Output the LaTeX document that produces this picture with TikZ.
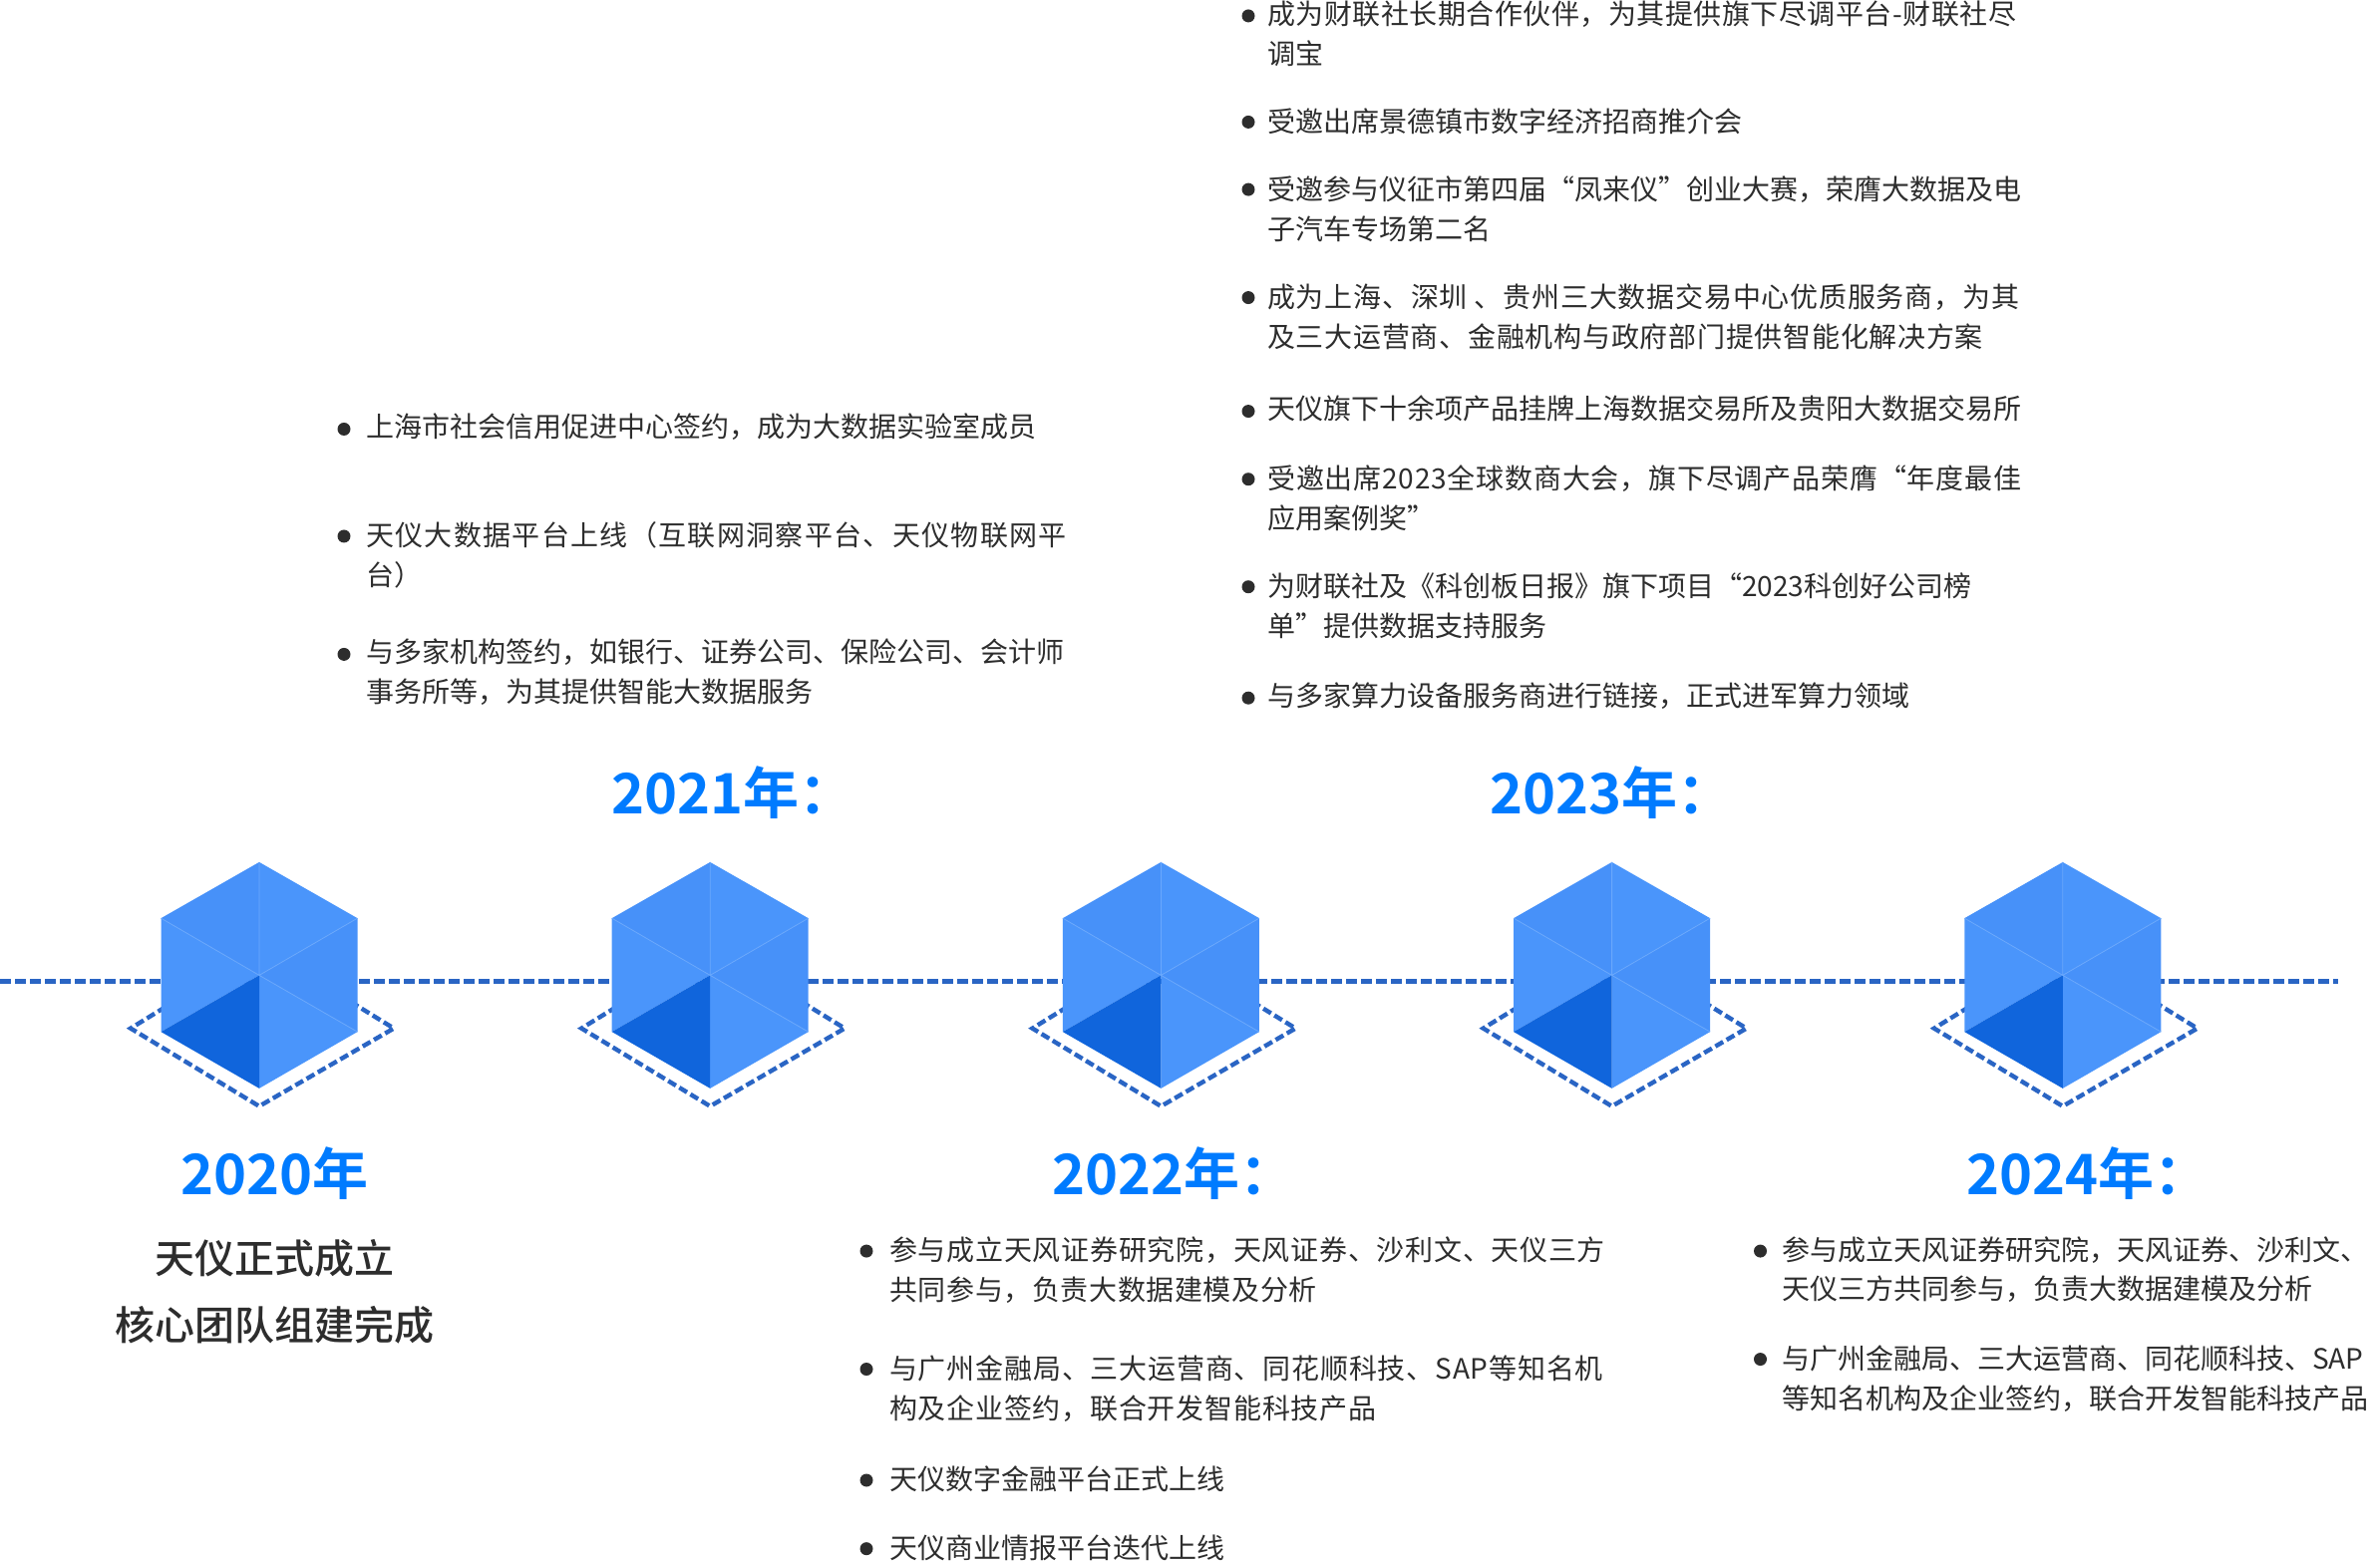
\documentclass[tikz,border=0pt]{standalone}
\usepackage{fontspec}
\setmainfont{Noto Sans CJK SC}
\newfontfamily\cjkbold{Noto Sans CJK SC Bold}
\newfontfamily\cjkmedium{Noto Sans CJK SC Medium}
\newcommand\lsp[2]{{\addfontfeature{LetterSpace=#1}#2}}
\definecolor{dashblue}{HTML}{2A65C4}
\definecolor{titleblue}{HTML}{007BFF}
\definecolor{faceA}{HTML}{4791F9}
\definecolor{faceB}{HTML}{4A95FB}
\definecolor{faceDark}{HTML}{1065DC}
\definecolor{faceLine}{HTML}{6AA8FC}
\definecolor{bodytext}{HTML}{2D2D2D}
\tikzset{
  x=1pt,y=-0.9953pt,
  bodyline/.style={anchor=base west,inner sep=0pt,text=bodytext,font=\fontsize{28}{28}\selectfont},
  subline/.style={anchor=base,inner sep=0pt,text=bodytext,font=\fontsize{40}{40}\cjkmedium},
  yeartitle/.style={anchor=base west,inner sep=0pt,text=titleblue,font=\fontsize{56}{56}\cjkbold},
  bulletdot/.style={circle,fill=bodytext,inner sep=0pt,minimum size=13pt},
  timeline/.style={draw=dashblue,line width=4.8pt,dash pattern=on 10.5pt off 4.5pt},
  groundline/.style={draw=dashblue,line width=4.4pt,dash pattern=on 9pt off 4pt,line join=miter},
}
\begin{document}
\begin{tikzpicture}
\useasboundingbox (0,0) rectangle (2387,1573.4);
\coordinate (lineL) at (0,989.5);
\coordinate (lineR) at (2345,989.5);
\draw[timeline] (lineL) -- (lineR);
\foreach \cx/\nm in {260/a,712.2/b,1164.4/c,1616.6/d,2068.8/e}{
  \begin{scope}[shift={(\cx,0)}]
    \draw[groundline] (3,955) -- (135,1036.5) -- (0,1115) -- (-129,1036.5) -- cycle;
    \fill[faceA] (0,983) -- (0,869) -- (-98.5,925.5) -- cycle;
    \fill[faceB] (0,983) -- (0,869) -- (98.5,925.5) -- cycle;
    \fill[faceB] (0,983) -- (-98.5,925.5) -- (-98.5,1040) -- cycle;
    \fill[faceA] (0,983) -- (98.5,925.5) -- (98.5,1040) -- cycle;
    \fill[faceB] (0,983) -- (98.5,1040) -- (0,1097) -- cycle;
    \fill[faceDark] (0,983) -- (-98.5,1040) -- (0,1097) -- cycle;
    \draw[faceLine,line width=0.8pt] (0,869) -- (0,983) -- (-98.5,925.5) (98.5,925.5) -- (0,983) -- (98.5,1040);
  \end{scope}
}
% titles
\node[yeartitle] (t20) at (181,1204) {2020年};
\node[yeartitle] (t21) at (613,820) {2021年：};
\node[yeartitle] (t22) at (1055,1204) {2022年：};
\node[yeartitle] (t23) at (1494,820) {2023年：};
\node[yeartitle] (t24) at (1972,1204) {2024年：};
% 2020
\node[subline] (s1) at (275.5,1284) {天仪正式成立};
\node[subline] (s2) at (275.5,1351) {核心团队组建完成};
% 2021
\foreach \ny in {432.5,540.5,659.5}{\node[bulletdot] (b21-\ny) at (345,\ny) {};}
\node[bodyline] (a1) at (367,441) {上海市社会信用促进中心签约，成为大数据实验室成员};
\node[bodyline] (a2) at (367,550) {\lsp{4.75}{天仪大数据平台上线（互联网洞察平台、天仪物联网平}};
\node[bodyline] (a3) at (367,590) {台）};
\node[bodyline] (a4) at (367,668) {与多家机构签约，如银行、证券公司、保险公司、会计师};
\node[bodyline] (a5) at (367,708) {事务所等，为其提供智能大数据服务};
% 2023
\foreach \ny in {16,123,191,300,414.5,483,591.5,703.5}{\node[bulletdot] (b23-\ny) at (1252,\ny) {};}
\node[bodyline] (c1) at (1271,25) {\lsp{1.8}{成为财联社长期合作伙伴，为其提供旗下尽调平台-财联社尽}};
\node[bodyline] (c2) at (1271,65) {调宝};
\node[bodyline] (c3) at (1271,133) {受邀出席景德镇市数字经济招商推介会};
\node[bodyline] (c4) at (1271,201.5) {受邀参与仪征市第四届“凤来仪”创业大赛，荣膺大数据及电};
\node[bodyline] (c5) at (1271,242) {子汽车专场第二名};
\node[bodyline] (c6) at (1271,310) {\lsp{2.8}{成为上海、深圳 、贵州三大数据交易中心优质服务商，为其}};
\node[bodyline] (c7) at (1271,350.5) {\lsp{2.65}{及三大运营商、金融机构与政府部门提供智能化解决方案}};
\node[bodyline] (c8) at (1271,422.5) {天仪旗下十余项产品挂牌上海数据交易所及贵阳大数据交易所};
\node[bodyline] (c9) at (1271,493) {\lsp{2.9}{受邀出席2023全球数商大会，旗下尽调产品荣膺“年度最佳}};
\node[bodyline] (c10) at (1271,533.5) {应用案例奖”};
\node[bodyline] (c11) at (1271,601.5) {为财联社及《科创板日报》旗下项目“2023科创好公司榜};
\node[bodyline] (c12) at (1271,642) {单”提供数据支持服务};
\node[bodyline] (c13) at (1271,712) {与多家算力设备服务商进行链接，正式进军算力领域};
% 2022
\foreach \ny in {1261,1380,1492,1561}{\node[bulletdot] (b22-\ny) at (869,\ny) {};}
\node[bodyline] (d1) at (892,1270) {\lsp{2.65}{参与成立天风证券研究院，天风证券、沙利文、天仪三方}};
\node[bodyline] (d2) at (892,1311) {\lsp{2.2}{共同参与，负责大数据建模及分析}};
\node[bodyline] (d3) at (892,1390) {\lsp{2.9}{与广州金融局、三大运营商、同花顺科技、SAP等知名机}};
\node[bodyline] (d4) at (892,1430) {\lsp{2.7}{构及企业签约，联合开发智能科技产品}};
\node[bodyline] (d5) at (892,1502) {天仪数字金融平台正式上线};
\node[bodyline] (d6) at (892,1571) {天仪商业情报平台迭代上线};
% 2024
\foreach \ny in {1261,1370}{\node[bulletdot] (b24-\ny) at (1765.5,\ny) {};}
\node[bodyline] (e1) at (1787,1270) {参与成立天风证券研究院，天风证券、沙利文、};
\node[bodyline] (e2) at (1787,1310) {天仪三方共同参与，负责大数据建模及分析};
\node[bodyline] (e3) at (1787,1380) {与广州金融局、三大运营商、同花顺科技、SAP};
\node[bodyline] (e4) at (1787,1420) {等知名机构及企业签约，联合开发智能科技产品};
\end{tikzpicture}
\end{document}
